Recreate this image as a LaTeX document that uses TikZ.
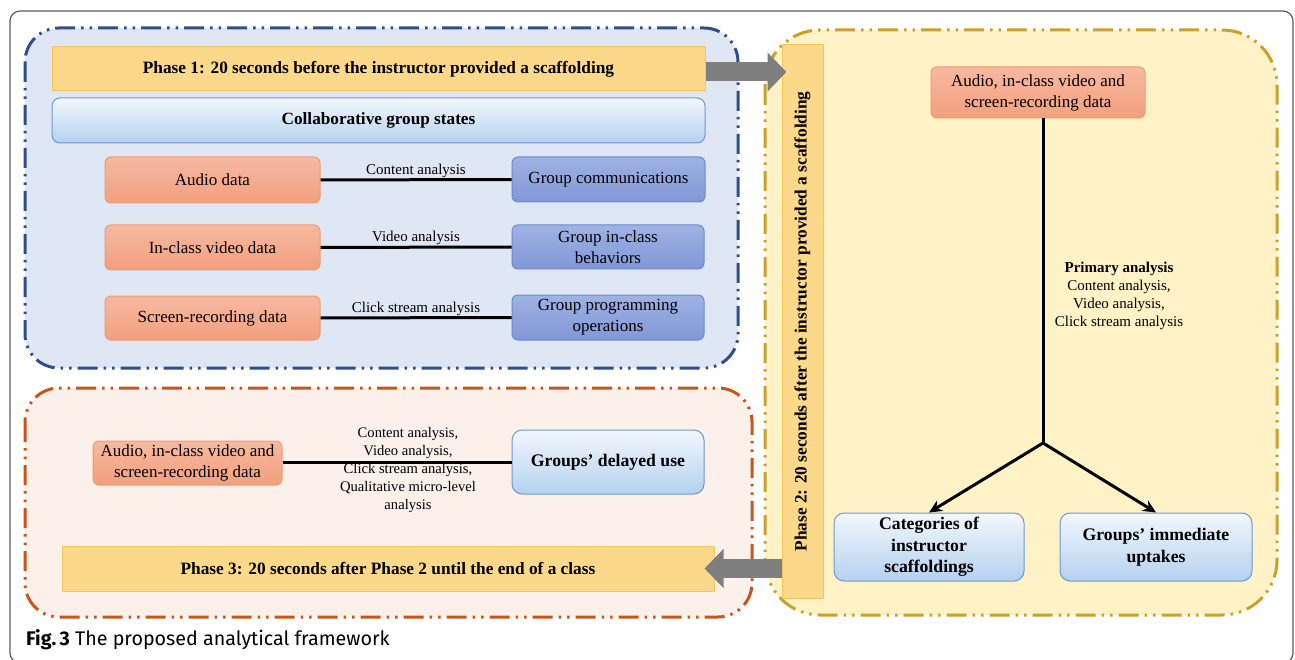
\documentclass[tikz,border=0pt]{standalone}
\usepackage{fontspec}
\setmainfont{Liberation Serif}
\newfontfamily\capfont{Fira Sans}
\usetikzlibrary{arrows.meta}

\definecolor{framegray}{HTML}{5A5A5A}
\definecolor{bluefill}{HTML}{DFE6F4}
\definecolor{blueline}{HTML}{2F4E8E}
\definecolor{orgfill}{HTML}{FBF0EA}
\definecolor{orgline}{HTML}{C8561A}
\definecolor{yelfill}{HTML}{FFF2C6}
\definecolor{yelline}{HTML}{C9A227}
\definecolor{phasefill}{HTML}{FCD98A}
\definecolor{phaseline}{HTML}{F6C65A}
\definecolor{rawtop}{HTML}{F7B9A1}
\definecolor{rawbot}{HTML}{F29F7E}
\definecolor{rawline}{HTML}{F29A70}
\definecolor{statetop}{HTML}{9FB2E3}
\definecolor{statebot}{HTML}{8297D7}
\definecolor{stateline}{HTML}{6F88CE}
\definecolor{restop}{HTML}{F2F7FD}
\definecolor{resbot}{HTML}{B5D1EE}
\definecolor{resline}{HTML}{7097D2}
\definecolor{arrowgray}{HTML}{7F7F7F}

\tikzset{
  region/.style={line width=3pt, rounded corners=34pt,
    dash pattern=on 20pt off 6pt on 2.5pt off 6pt on 2.5pt off 6pt},
  phasebar/.style={fill=phasefill, draw=phaseline, line width=1pt, inner sep=0pt,
    font=\rmfamily\bfseries\fontsize{17.3}{20}\selectfont},
  rawbox/.style={draw=rawline, top color=rawtop, bottom color=rawbot, line width=1pt,
    rounded corners=6pt, align=center, inner sep=0pt, font=\rmfamily\fontsize{17}{21}\selectfont},
  statebox/.style={draw=stateline, top color=statetop, bottom color=statebot, line width=1pt,
    rounded corners=6pt, align=center, inner sep=0pt, font=\rmfamily\fontsize{17}{21}\selectfont},
  resbox/.style={draw=resline, top color=restop, bottom color=resbot, line width=1pt,
    rounded corners=10pt, align=center, inner sep=0pt, font=\rmfamily\bfseries\fontsize{17.7}{21.5}\selectfont},
  link/.style={line width=3pt},
  linklabel/.style={align=center, inner sep=1pt, font=\rmfamily\fontsize{15}{18}\selectfont},
  bigarrow/.style={arrowgray, line width=19pt, -{Triangle[length=19pt,width=38pt]}},
}

\begin{document}
\begin{tikzpicture}[x=1pt,y=-1pt,line join=round,>={Stealth[length=13pt,width=12pt]}]
  \useasboundingbox (0,0) rectangle (1295,660);
  \draw[framegray, line width=1.2pt, rounded corners=10pt] (10,11) rectangle (1293,663);

  % the three phases
  \draw[region, draw=blueline, fill=bluefill] (25,28) rectangle (738,368);
  \draw[region, draw=orgline, fill=orgfill] (25,388) rectangle (752,617);
  \draw[region, rounded corners=55pt, draw=yelline, fill=yelfill] (765,30) rectangle (1277,615);

  % phase 1
  \node[phasebar, minimum width=653pt, minimum height=44pt] (phA) at (378.5,69)
    {Phase 1: 20 seconds before the instructor provided a scaffolding};
  \node[resbox, rounded corners=8pt, font=\rmfamily\bfseries\fontsize{17.2}{20}\selectfont,
    minimum width=653pt, minimum height=45pt] (collab) at (378.5,120.5) {Collaborative group states};

  \node[rawbox, minimum width=215pt, minimum height=46pt] (audio) at (212.5,180) {Audio data};
  \node[rawbox, minimum width=215pt, minimum height=45pt] (video) at (212.5,247.5) {In-class video data};
  \node[rawbox, minimum width=215pt, minimum height=44pt] (screen) at (212.5,318) {Screen-recording data};

  \node[statebox, minimum width=193pt, minimum height=45pt] (comm) at (608.5,179.5) {Group communications};
  \node[statebox, minimum width=192pt, minimum height=44pt] (behav) at (608,247) {Group in-class\\behaviors};
  \node[statebox, minimum width=192pt, minimum height=45pt] (prog) at (608,317.5) {Group programming\\operations};

  \draw[link] (audio) -- node[linklabel, above] {Content analysis} (comm);
  \draw[link] (video) -- node[linklabel, above] {Video analysis} (behav);
  \draw[link] (screen) -- node[linklabel, above] {Click stream analysis} (prog);

  % phase 2
  \node[phasebar, rotate=90, minimum width=553pt, minimum height=41pt] (phB) at (802.5,321.5)
    {Phase 2: 20 seconds after the instructor provided a scaffolding};
  \node[rawbox, minimum width=214pt, minimum height=51pt] (allA) at (1038,92.5)
    {Audio, in-class video and\\screen-recording data};
  \node[resbox, minimum width=190pt, minimum height=68pt] (cat) at (929,547)
    {Categories of\\instructor\\scaffoldings};
  \node[resbox, minimum width=192pt, minimum height=68pt] (uptake) at (1156,547)
    {Groups' immediate\\uptakes};
  \coordinate (split) at (1043,443);
  \draw[link] (allA.south -| split) -- (split);
  \draw[link, ->] (split) -- (cat.north);
  \draw[link, ->] (split) -- (uptake.north);
  \node[linklabel] (prim) at (1119,296)
    {\textbf{Primary analysis}\\Content analysis,\\Video analysis,\\Click stream analysis};

  % phase 3
  \node[rawbox, minimum width=189pt, minimum height=44pt] (allB) at (187.5,463)
    {Audio, in-class video and\\screen-recording data};
  \node[resbox, minimum width=192pt, minimum height=64pt] (delay) at (608,462) {Groups' delayed use};
  \draw[link] (allB.east |- delay) -- (delay);
  \node[linklabel, font=\rmfamily\fontsize{14.6}{18}\selectfont] (mixed) at (408,470)
    {Content analysis,\\Video analysis,\\Click stream analysis,\\Qualitative micro-level\\analysis};
  \node[phasebar, minimum width=652pt, minimum height=45pt] (phC) at (388,568.5)
    {Phase 3: 20 seconds after Phase 2 until the end of a class};

  % hand-over between phases
  \draw[bigarrow] ([yshift=-3pt]phA.east) -- ([xshift=5pt,yshift=-3pt]phA.east -| phB.north);
  \draw[bigarrow] (phB.north |- phC.east) -- ([xshift=-10pt]phC.east);

  \node[anchor=base west, inner sep=0pt, font=\capfont\fontsize{19.7}{22}\selectfont] (cap) at (26,645)
    {\textbf{Fig.\,3} The proposed analytical framework};
\end{tikzpicture}
\end{document}
